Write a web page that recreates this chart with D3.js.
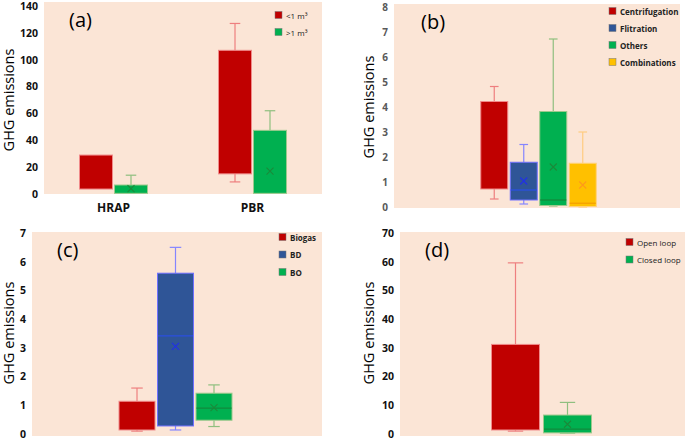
<!DOCTYPE html>
<html>
<head>
<meta charset="utf-8">
<script src="https://cdn.jsdelivr.net/npm/d3@7"></script>
<style>
  html, body { margin: 0; padding: 0; background: #ffffff; }
  svg { display: block; }
</style>
</head>
<body>
<svg id="chart" width="685" height="440"></svg>
<script>
// ---------- DATA ----------
// each box: [min, q1, median, q3, max, mean]  (null = not drawn)
// Panel (a)
const aCategories = ["HRAP", "PBR"];
const aSeries = ["<1 m³", ">1 m³"];
const aTicks = [0, 20, 40, 60, 80, 100, 120, 140];
const aSmallReactor = [[3.7, 3.7, null, 29, 29, null], [9, 15, null, 107, 127, null]];
const aLargeReactor = [[0.5, 0.5, null, 6.7, 14, 4], [0.5, 0.5, null, 47.4, 62, 17]];

// Panel (b)
const bSeries = ["Centrifugation", "Flitration", "Others", "Combinations"];
const bTicks = [0, 1, 2, 3, 4, 5, 6, 7, 8];
const bCentrifugation = [0.32, 0.72, null, 4.22, 4.82, null];
const bFiltration = [0.12, 0.28, 0.68, 1.79, 2.5, 1.04];
const bOthers = [0.04, 0.06, 0.28, 3.82, 6.72, 1.6];
const bCombinations = [0.0, 0.02, 0.15, 1.75, 3.0, 0.88];

// Panel (c)
const cSeries = ["Biogas", "BD", "BO"];
const cTicks = [0, 1, 2, 3, 4, 5, 6, 7];
const cBiogas = [0.1, 0.14, null, 1.14, 1.6, null];
const cBD = [0.14, 0.28, 3.42, 5.6, 6.5, 3.05];
const cBO = [0.26, 0.48, 0.9, 1.42, 1.71, 0.92];

// Panel (d)
const dSeries = ["Open loop", "Closed loop"];
const dTicks = [0, 10, 20, 30, 40, 50, 60, 70];
const dOpenLoop = [1.0, 1.4, null, 31.2, 59.6, null];
const dClosedLoop = [0.3, 0.4, 1.7, 6.6, 11, 3.4];

// ---------- STYLES ----------
const PAL = {
  red:    {fill: "#c00000", stroke: "#f08a8a", whisk: "#ee7f7f", med: "#a00000", mean: "#a00000"},
  green:  {fill: "#00b050", stroke: "#9cc98c", whisk: "#8fbf7f", med: "#118a3c", mean: "#1a8a3a"},
  blue:   {fill: "#2f5597", stroke: "#7070ff", whisk: "#8585ff", med: "#2b4fe0", mean: "#2030e8"},
  yellow: {fill: "#ffc000", stroke: "#ffd27a", whisk: "#ffcc80", med: "#f5a000", mean: "#ff9a1a"}
};
const BG = "#fbe5d6";
const FONT = "'Open Sans', 'Noto Sans', sans-serif";

const svg = d3.select("#chart");
svg.append("rect").attr("width", 685).attr("height", 440).attr("fill", "#ffffff");

function panel(cfg) {
  const g = svg.append("g");
  // background
  g.append("rect")
    .attr("x", cfg.x0).attr("y", cfg.bgTop)
    .attr("width", cfg.x1 - cfg.x0).attr("height", cfg.bgBottom - cfg.bgTop)
    .attr("fill", BG);

  const y = d3.scaleLinear().domain(cfg.domain).range([cfg.yBottom, cfg.yTop]);
  const x = d3.scaleBand().domain(cfg.categories).range([cfg.x0 + cfg.xShift, cfg.x1 + cfg.xShift]).padding(0);

  // y axis
  const ax = g.append("g")
    .attr("transform", `translate(${cfg.x0 - 6},0)`)
    .call(d3.axisLeft(y).tickValues(cfg.ticks).tickFormat(d3.format("d")).tickSize(0).tickPadding(0));
  ax.select(".domain").remove();
  ax.selectAll("text")
    .attr("font-family", FONT).attr("font-weight", 700)
    .attr("font-size", cfg.tickSize).attr("fill", cfg.tickColor);

  // y title
  g.append("text")
    .attr("transform", `translate(${cfg.titleX},${cfg.titleY}) rotate(-90)`)
    .attr("text-anchor", "middle").attr("dominant-baseline", "middle")
    .attr("font-family", FONT).attr("font-size", 14.5).attr("fill", "#000")
    .text("GHG emissions");

  // panel label
  g.append("text")
    .attr("x", cfg.labelX).attr("y", cfg.labelY)
    .attr("dominant-baseline", "middle")
    .attr("font-family", FONT).attr("font-size", 20).attr("fill", "#000")
    .text(cfg.label);

  // x category labels
  if (cfg.showX) {
    cfg.categories.forEach(c => {
      g.append("text")
        .attr("x", x(c) + x.bandwidth() / 2).attr("y", cfg.xLabelY)
        .attr("text-anchor", "middle")
        .attr("font-family", FONT).attr("font-weight", 700).attr("font-size", 12).attr("fill", "#111")
        .text(c);
    });
  }

  // boxes
  const n = cfg.series.length;
  cfg.categories.forEach((c, ci) => {
    const cx = x(c) + x.bandwidth() / 2;
    cfg.series.forEach((s, si) => {
      const st = s.data[ci];
      const p = PAL[s.color];
      const bx = cx + (si - (n - 1) / 2) * (cfg.boxW + cfg.gap);
      const w = cfg.boxW;
      const cap = w * 0.32;
      const [mn, q1, med, q3, mx, mean] = st;
      const bg = g.append("g");
      // whiskers
      if (mx > q3) {
        bg.append("line").attr("x1", bx).attr("x2", bx).attr("y1", y(q3)).attr("y2", y(mx))
          .attr("stroke", p.whisk).attr("stroke-width", 1.2);
        bg.append("line").attr("x1", bx - cap / 2).attr("x2", bx + cap / 2).attr("y1", y(mx)).attr("y2", y(mx))
          .attr("stroke", p.whisk).attr("stroke-width", 1.2);
      }
      if (mn < q1) {
        bg.append("line").attr("x1", bx).attr("x2", bx).attr("y1", y(q1)).attr("y2", y(mn))
          .attr("stroke", p.whisk).attr("stroke-width", 1.2);
        bg.append("line").attr("x1", bx - cap / 2).attr("x2", bx + cap / 2).attr("y1", y(mn)).attr("y2", y(mn))
          .attr("stroke", p.whisk).attr("stroke-width", 1.2);
      }
      // box
      bg.append("rect")
        .attr("x", bx - w / 2).attr("y", y(q3))
        .attr("width", w).attr("height", y(q1) - y(q3))
        .attr("fill", p.fill).attr("stroke", p.stroke).attr("stroke-width", 1);
      // median
      if (med !== null) {
        bg.append("line").attr("x1", bx - w / 2 + 0.5).attr("x2", bx + w / 2 - 0.5)
          .attr("y1", y(med)).attr("y2", y(med))
          .attr("stroke", p.med).attr("stroke-width", 1.3);
      }
      // mean
      if (mean !== null) {
        const m = 3.5, my = y(mean);
        bg.append("path")
          .attr("d", `M${bx - m},${my - m}L${bx + m},${my + m}M${bx - m},${my + m}L${bx + m},${my - m}`)
          .attr("stroke", p.mean).attr("stroke-width", 1.1).attr("fill", "none");
      }
    });
  });

  // legend
  cfg.series.forEach((s, si) => {
    const ly = cfg.legY + si * cfg.legStep;
    g.append("rect")
      .attr("x", cfg.legX).attr("y", ly - 3.5)
      .attr("width", 7).attr("height", 7)
      .attr("fill", PAL[s.color].fill).attr("stroke", "#777").attr("stroke-width", 0.5);
    g.append("text")
      .attr("x", cfg.legX + 11).attr("y", ly)
      .attr("dominant-baseline", "central")
      .attr("font-family", FONT).attr("font-weight", cfg.legBold ? 700 : 400)
      .attr("font-size", cfg.legSize).attr("fill", "#222")
      .text(s.name);
  });
}

// Panel (a)
panel({
  x0: 44, x1: 322, xShift: 0, bgTop: 2, bgBottom: 194, yTop: 6, yBottom: 194,
  domain: [0, 140], ticks: aTicks, tickSize: 10.5, tickColor: "#111",
  categories: aCategories, showX: true, xLabelY: 212,
  series: [
    {name: aSeries[0], color: "red", data: aSmallReactor},
    {name: aSeries[1], color: "green", data: aLargeReactor}
  ],
  boxW: 33, gap: 2,
  titleX: 10, titleY: 100, label: "(a)", labelX: 69, labelY: 22,
  legX: 275, legY: 15, legStep: 17, legSize: 8, legBold: false
});

// Panel (b)
panel({
  x0: 394, x1: 680, xShift: 1.5, bgTop: 4, bgBottom: 208, yTop: 7, yBottom: 207,
  domain: [0, 8], ticks: bTicks, tickSize: 10, tickColor: "#595959",
  categories: [""], showX: false,
  series: [
    {name: bSeries[0], color: "red", data: [bCentrifugation]},
    {name: bSeries[1], color: "blue", data: [bFiltration]},
    {name: bSeries[2], color: "green", data: [bOthers]},
    {name: bSeries[3], color: "yellow", data: [bCombinations]}
  ],
  boxW: 27, gap: 2.5,
  titleX: 370, titleY: 107, label: "(b)", labelX: 421, labelY: 24,
  legX: 609, legY: 11, legStep: 17, legSize: 8, legBold: true
});

// Panel (c)
panel({
  x0: 32, x1: 322, xShift: -1.5, bgTop: 232, bgBottom: 436, yTop: 233, yBottom: 434,
  domain: [0, 7], ticks: cTicks, tickSize: 10.5, tickColor: "#111",
  categories: [""], showX: false,
  series: [
    {name: cSeries[0], color: "red", data: [cBiogas]},
    {name: cSeries[1], color: "blue", data: [cBD]},
    {name: cSeries[2], color: "green", data: [cBO]}
  ],
  boxW: 36, gap: 2.5,
  titleX: 10.5, titleY: 333, label: "(c)", labelX: 57, labelY: 252,
  legX: 279, legY: 237, legStep: 17.5, legSize: 8, legBold: true
});

// Panel (d)
panel({
  x0: 400, x1: 685, xShift: -1, bgTop: 232, bgBottom: 436, yTop: 233, yBottom: 434,
  domain: [0, 70], ticks: dTicks, tickSize: 10.5, tickColor: "#111",
  categories: [""], showX: false,
  series: [
    {name: dSeries[0], color: "red", data: [dOpenLoop]},
    {name: dSeries[1], color: "green", data: [dClosedLoop]}
  ],
  boxW: 48, gap: 4,
  titleX: 370, titleY: 333, label: "(d)", labelX: 425, labelY: 252,
  legX: 626, legY: 242, legStep: 17.5, legSize: 8, legBold: false
});
</script>
</body>
</html>
